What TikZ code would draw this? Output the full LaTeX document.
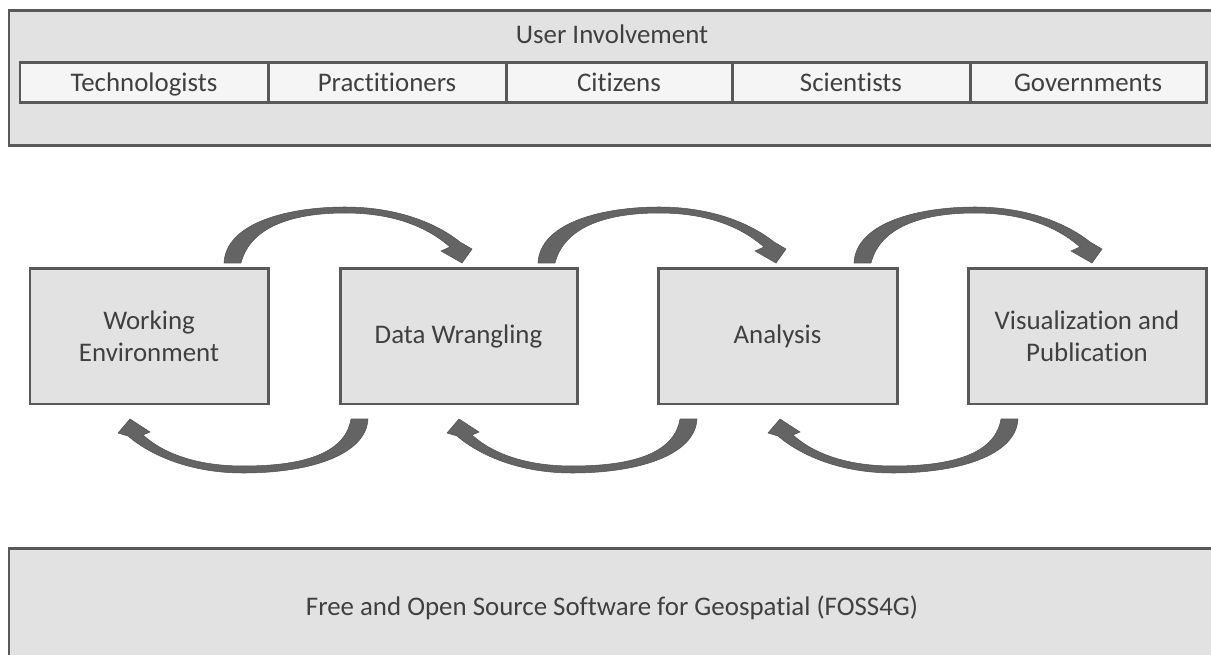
\documentclass[tikz,border=0pt]{standalone}
\usepackage{fontspec}
\setmainfont{Carlito}[Ligatures={NoCommon}]
\begin{document}
\begin{tikzpicture}[x=0.02cm,y=-0.02cm,
  every node/.style={inner sep=0pt,outer sep=0pt,text=txt,font=\fontsize{15.3}{18.2}\selectfont},
  lbl/.style={text height=1.0em,text depth=0pt},
  panel/.style={draw=edge,line width=0.06cm,fill=boxfill},
  cell/.style={lbl,draw=edge,line width=0.06cm,fill=cellfill,minimum height=40*0.02cm},
  proc/.style={draw=edge,line width=0.06cm,fill=boxfill,minimum height=135*0.02cm,align=center},
  arrowfill/.style={fill=arr,draw=arr!80!black,line width=0.3pt},
  pics/toparrow/.style={code={
    \path[arrowfill] (0,0) .. controls (2,-41) and (66,-56) .. (121,-56)
      .. controls (171,-56) and (211,-41) .. (236,-21)
      -- (248,-14) -- (238,0) -- (217,-12) -- (226,-16)
      .. controls (201,-38) and (166,-50) .. (121,-50)
      .. controls (66,-50) and (26,-35) .. (17,0) -- cycle;}},
  pics/botarrow/.style={code={
    \path[arrowfill] (0,0) .. controls (-2,36) and (-58,54) .. (-125,54)
      .. controls (-178,54) and (-218,36) .. (-240,17)
      -- (-250,14) -- (-238,0) -- (-218,13) -- (-225,16)
      .. controls (-203,36) and (-168,47) .. (-125,47)
      .. controls (-68,47) and (-23,36) .. (-17,0) -- cycle;}}
]
\definecolor{txt}{HTML}{404040}
\definecolor{edge}{HTML}{595959}
\definecolor{boxfill}{HTML}{E2E2E2}
\definecolor{cellfill}{HTML}{F5F5F5}
\definecolor{arr}{HTML}{646464}
\useasboundingbox (0,0) rectangle (1211,655);
\begin{scope}
\clip (0,0) rectangle (1211,655);
% top panel
\node[panel,minimum width=1221*0.02cm,minimum height=135*0.02cm] (top) at (619.5,78.5) {};
\node[lbl] (title) at (612,35) {User Involvement};
\node[cell,minimum width=248*0.02cm] (c1) at (144,83) {Technologists};
\node[cell,minimum width=238*0.02cm] (c2) at (387,83) {Practitioners};
\node[cell,minimum width=226*0.02cm] (c3) at (619,83) {Citizens};
\node[cell,minimum width=238*0.02cm] (c4) at (851,83) {Scientists};
\node[cell,minimum width=236*0.02cm] (c5) at (1088,83) {Governments};
% process boxes
\node[proc,minimum width=238*0.02cm] (b1) at (149,336.5) {Working\\Environment};
\node[proc,minimum width=237*0.02cm] (b2) at (458.5,336.5) {Data Wrangling};
\node[proc,minimum width=239*0.02cm] (b3) at (777.5,336.5) {Analysis};
\node[proc,minimum width=238*0.02cm] (b4) at (1087,336.5) {Visualization and\\Publication};
% curved arrows
\pic at (224,263) {toparrow};
\pic at (538,263) {toparrow};
\pic at (854,263) {toparrow};
\pic at (368,419) {botarrow};
\pic at (697,419) {botarrow};
\pic at (1018,419) {botarrow};
% bottom panel
\node[panel,minimum width=1221*0.02cm,minimum height=132*0.02cm] (foss) at (619.5,614) {};
\node[lbl] (fosstext) at (612,607) {Free and Open Source Software for Geospatial (FOSS4G)};
\end{scope}
\end{tikzpicture}
\end{document}
